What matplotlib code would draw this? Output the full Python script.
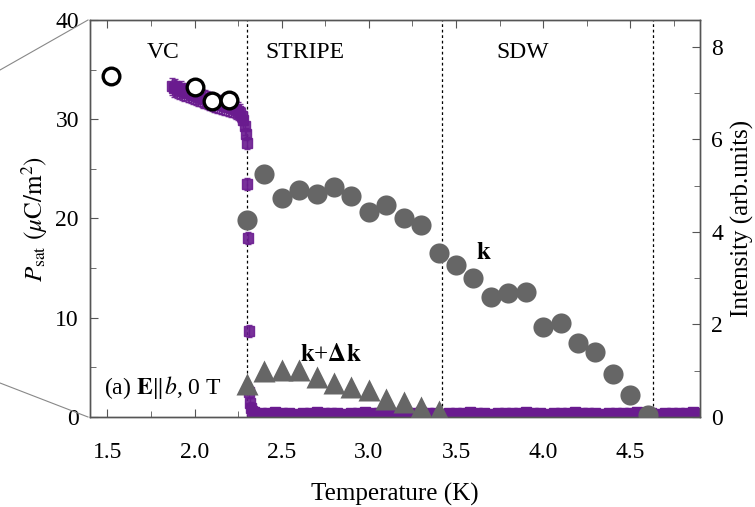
import numpy as np
import matplotlib.pyplot as plt
from matplotlib.lines import Line2D
from matplotlib.ticker import MultipleLocator

plt.rcParams['font.family'] = ['Liberation Serif', 'DejaVu Serif']
plt.rcParams['mathtext.fontset'] = 'stix'
plt.rcParams['font.size'] = 17

# --- P_sat from pyroelectric current (left axis) ---
t_vc = [1.87, 1.88, 1.89, 1.90, 1.91, 1.92, 1.93, 1.94, 1.95, 1.96, 1.97,
        1.98, 1.99, 2.00, 2.01, 2.02, 2.03, 2.04, 2.05, 2.06, 2.07, 2.08,
        2.09, 2.10, 2.11, 2.12, 2.13, 2.14, 2.15, 2.16, 2.17, 2.18, 2.19,
        2.20, 2.21, 2.22, 2.23, 2.24, 2.25, 2.26, 2.27, 2.28, 2.29,
        2.297, 2.300, 2.302, 2.305, 2.310, 2.315, 2.320, 2.325, 2.330]
p_vc = [33.3, 33.1, 33.2, 33.0, 32.9, 33.0, 32.8, 32.7, 32.8, 32.6, 32.6,
        32.5, 32.4, 32.4, 32.3, 32.2, 32.2, 32.1, 32.0, 32.0, 31.9, 31.8,
        31.8, 31.7, 31.6, 31.6, 31.5, 31.5, 31.4, 31.4, 31.3, 31.3, 31.2,
        31.2, 31.1, 31.1, 31.0, 30.9, 30.8, 30.6, 30.3, 29.9, 29.3,
        28.5, 27.6, 23.5, 18.0, 8.7, 2.5, 1.4, 0.9, 0.6]
p_vc_err = [0.9] * 43 + [0.6] * 9

t_flat = [2.34, 2.38, 2.42, 2.46, 2.50, 2.54, 2.58, 2.62, 2.66, 2.70, 2.74,
          2.78, 2.82, 2.86, 2.90, 2.94, 2.98, 3.02, 3.06, 3.10, 3.14, 3.18,
          3.22, 3.26, 3.30, 3.34, 3.38, 3.42, 3.46, 3.50, 3.54, 3.58, 3.62,
          3.66, 3.70, 3.74, 3.78, 3.82, 3.86, 3.90, 3.94, 3.98, 4.02, 4.06,
          4.10, 4.14, 4.18, 4.22, 4.26, 4.30, 4.34, 4.38, 4.42, 4.46, 4.50,
          4.54, 4.58, 4.62, 4.66, 4.70, 4.74, 4.78, 4.82, 4.86, 4.90]
p_flat = [0.5, 0.4, 0.4, 0.5, 0.4, 0.4, 0.3, 0.4, 0.4, 0.5, 0.4,
          0.4, 0.4, 0.3, 0.4, 0.4, 0.5, 0.4, 0.4, 0.4, 0.3, 0.4,
          0.4, 0.4, 0.5, 0.4, 0.4, 0.3, 0.4, 0.4, 0.4, 0.5, 0.4,
          0.4, 0.3, 0.4, 0.4, 0.4, 0.4, 0.5, 0.4, 0.4, 0.3, 0.4,
          0.4, 0.4, 0.5, 0.4, 0.4, 0.4, 0.3, 0.4, 0.4, 0.4, 0.4,
          0.5, 0.4, 0.4, 0.3, 0.4, 0.4, 0.4, 0.4, 0.5, 0.4]

# P_sat from P-E loops
t_loop = [1.52, 2.00, 2.10, 2.20]
p_loop = [34.4, 33.2, 31.8, 31.9]

# --- neutron intensities (right axis) ---
t_k = [2.30, 2.40, 2.50, 2.60, 2.70, 2.80, 2.90, 3.00, 3.10, 3.20, 3.30, 3.40,
       3.50, 3.60, 3.70, 3.80, 3.90, 4.00, 4.10, 4.20, 4.30, 4.40, 4.50, 4.60]
i_k = [4.25, 5.25, 4.74, 4.90, 4.83, 4.97, 4.77, 4.42, 4.58, 4.30, 4.16, 3.54,
       3.28, 3.00, 2.60, 2.67, 2.71, 1.95, 2.03, 1.61, 1.41, 0.94, 0.48, 0.05]

t_dk = [2.30, 2.40, 2.50, 2.60, 2.70, 2.80, 2.90, 3.00, 3.10, 3.20, 3.30, 3.40]
i_dk = [0.72, 1.00, 1.02, 1.01, 0.86, 0.73, 0.65, 0.58, 0.38, 0.33, 0.22, 0.12]

# phase boundaries
t_bounds = [2.30, 3.42, 4.63]
phase_names = ['VC', 'STRIPE', 'SDW']
phase_x = [1.82, 2.63, 3.88]

purple = '#6a1b8f'
gray = '#666666'
spine_c = '#555555'

fig = plt.figure(figsize=(7.55, 5.07), dpi=100)
ax = fig.add_axes([0.1192, 0.1775, 0.808, 0.7831])
ax2 = ax.twinx()

ax.errorbar(t_vc, p_vc, yerr=p_vc_err, fmt='s', color=purple, ms=6.5,
            elinewidth=1.0, capsize=2.5, alpha=0.9, zorder=2)
ax.plot(t_flat, p_flat, 's', color=purple, ms=7, zorder=2)
ax.plot(t_loop, p_loop, 'o', mfc='white', mec='black', mew=2.4, ms=12, zorder=4)

for tb in t_bounds:
    ax.axvline(tb, color='black', lw=0.9, ls=(0, (2.2, 2.2)), zorder=1)

for name, tx in zip(phase_names, phase_x):
    ax.text(tx, 36.7, name, ha='center', va='center', fontsize=17)

ax2.plot(t_k, i_k, 'o', color=gray, ms=14.5, mec='none', zorder=3)
ax2.plot(t_dk, i_dk, '^', color=gray, ms=16.5, mec='none', zorder=3)
ax2.text(3.66, 3.55, r'$\mathbf{k}$', fontsize=18, ha='center', va='center')
ax2.text(2.78, 1.33, r'$\mathbf{k}$+$\mathbf{\Delta k}$', fontsize=18,
         ha='center', va='center')
ax.text(1.483, 3.0, r'(a) $\mathbf{E}\Vert b$, 0 T', fontsize=17,
        ha='left', va='center')

ax.set_xlim(1.4, 4.9)
ax.set_ylim(0, 40)
ax2.set_ylim(0, 8.58)

ax.xaxis.set_major_locator(MultipleLocator(0.5))
ax.xaxis.set_minor_locator(MultipleLocator(0.25))
ax.yaxis.set_major_locator(MultipleLocator(10))
ax.yaxis.set_minor_locator(MultipleLocator(5))
ax2.yaxis.set_major_locator(MultipleLocator(2))
ax2.yaxis.set_minor_locator(MultipleLocator(1))
ax.set_xticks([1.5, 2.0, 2.5, 3.0, 3.5, 4.0, 4.5])
ax.set_xticklabels(['1.5', '2.0', '2.5', '3.0', '3.5', '4.0', '4.5'])

ax.tick_params(axis='both', which='both', direction='in', top=True,
               color=spine_c, labelsize=17, pad=8)
ax.tick_params(which='major', length=6)
ax.tick_params(which='minor', length=4)
ax.tick_params(axis='x', pad=18)
ax2.tick_params(axis='y', which='both', direction='in', color=spine_c,
                labelsize=17, pad=8)
ax2.tick_params(which='major', length=6)
ax2.tick_params(which='minor', length=4)

for a in (ax, ax2):
    for s in a.spines.values():
        s.set_color(spine_c)
        s.set_linewidth(1.0)

ax.set_xlabel('Temperature (K)', fontsize=18, labelpad=14)
ax.set_ylabel(r'$P_{\mathrm{sat}}$ $(\mu\mathrm{C/m^2})$', fontsize=18, labelpad=4)
ax2.set_ylabel('Intensity (arb.units)', fontsize=18, labelpad=6)

# zoom connector lines on the left margin
fig.add_artist(Line2D([0 / 755, 88 / 755], [1 - 70 / 507, 1 - 20 / 507],
                      transform=fig.transFigure, color='#888888', lw=0.8))
fig.add_artist(Line2D([0 / 755, 88 / 755], [1 - 383 / 507, 1 - 417 / 507],
                      transform=fig.transFigure, color='#888888', lw=0.8))

fig.savefig('out.png', dpi=100)
